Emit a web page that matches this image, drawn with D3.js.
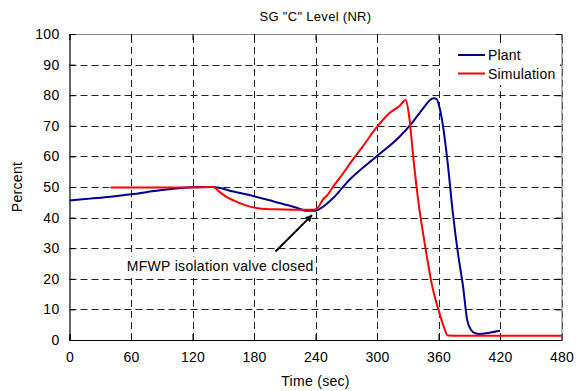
<!DOCTYPE html>
<html>
<head>
<meta charset="utf-8">
<script src="https://cdn.jsdelivr.net/npm/d3@7"></script>
<style>
  html, body { margin: 0; padding: 0; background: #fff; }
  svg { display: block; font-family: "Liberation Sans", Arial, sans-serif; }
</style>
</head>
<body>
<svg id="chart" width="582" height="391"></svg>
<script>
const title = 'SG "C" Level (NR)';
const xLabel = "Time (sec)";
const yLabel = "Percent";
const xTicks = [0, 60, 120, 180, 240, 300, 360, 420, 480];
const yTicks = [0, 10, 20, 30, 40, 50, 60, 70, 80, 90, 100];
const seriesNames = ["Plant", "Simulation"];

const plantT = [0, 20, 40, 60, 90, 120, 140, 160, 180, 200, 220, 232, 240, 245, 257, 273, 300, 322, 335, 345, 351, 355, 358, 361, 364, 369, 374, 379, 384, 388, 392, 396, 400, 410, 420];
const plantV = [45.6, 46.2, 46.8, 47.6, 49.0, 49.9, 50.0, 48.5, 47.0, 45.2, 43.4, 42.2, 42.2, 43.0, 46.3, 52.3, 60.1, 66.4, 71.3, 75.7, 78.2, 79.0, 78.8, 76.0, 70.8, 57.7, 41.5, 28.3, 17.4, 6.5, 3.2, 2.2, 2.0, 2.4, 3.0];

const simT = [40, 80, 120, 140, 146, 152, 160, 172, 185, 200, 220, 239, 243, 247, 252, 257, 267, 276, 286, 299, 312, 322, 328, 331, 336, 341, 346, 354, 361, 365, 369, 380, 420, 480];
const simV = [49.8, 49.8, 49.8, 50.0, 48.5, 47.0, 45.6, 44.0, 43.0, 42.7, 42.6, 42.6, 43.5, 45.8, 47.5, 50.0, 54.5, 58.8, 63.2, 69.2, 74.1, 76.5, 78.4, 74.0, 57.7, 43.6, 32.7, 17.4, 8.7, 4.5, 1.5, 1.4, 1.4, 1.4];

const annotation = { text: "MFWP isolation valve closed", from: [201, 28.9], to: [236.5, 40.8], textAt: [147, 22.7] };

const colors = ["#00008f", "#ff0000"];

const svg = d3.select("#chart");
const L = 69.5, R = 561.5, T = 34, B = 340;
const x = d3.scaleLinear().domain([0, 480]).range([L, R]);
const y = d3.scaleLinear().domain([0, 100]).range([B, T]);

// gridlines (dashed)
const grid = svg.append("g").attr("stroke", "#222").attr("stroke-width", 1).attr("stroke-dasharray", "7,4");
grid.selectAll("line.gx").data(xTicks.filter(d => d > 0)).join("line")
  .attr("x1", d => Math.round(x(d)) + 0.5).attr("x2", d => Math.round(x(d)) + 0.5)
  .attr("y1", y(0)).attr("y2", y(100));
grid.selectAll("line.gy").data(yTicks.filter(d => d > 0)).join("line")
  .attr("y1", d => Math.round(y(d)) + 0.5).attr("y2", d => Math.round(y(d)) + 0.5)
  .attr("x1", x(0)).attr("x2", x(480));

// axes
const xAxisB = d3.axisBottom(x).tickValues(xTicks).tickSize(-6).tickPadding(12);
const xAxisT = d3.axisTop(x).tickValues(xTicks).tickSize(-6).tickFormat("");
const yAxisL = d3.axisLeft(y).tickValues(yTicks).tickSize(-6).tickPadding(10);
const yAxisR = d3.axisRight(y).tickValues(yTicks).tickSize(-6).tickFormat("");

function styleAxis(g, solid) {
  g.select(".domain").attr("stroke", solid ? "#000" : "#888").attr("stroke-width", 1.2);
  g.selectAll(".tick line").attr("stroke", "#000").attr("stroke-width", 1);
  g.selectAll(".tick text").attr("fill", "#000").attr("font-size", 14).attr("letter-spacing", 0.3)
    .attr("font-family", "'Liberation Sans', Arial, sans-serif");
}
svg.append("g").attr("transform", `translate(0,${B})`).call(xAxisB).call(g => styleAxis(g, true));
svg.append("g").attr("transform", `translate(0,${T})`).call(xAxisT).call(g => styleAxis(g, false));
svg.append("g").attr("transform", `translate(${L},0)`).call(yAxisL).call(g => styleAxis(g, true));
svg.append("g").attr("transform", `translate(${R},0)`).call(yAxisR).call(g => styleAxis(g, false));

// annotation text with white background
const annG = svg.append("g");
const annText = annG.append("text").attr("x", x(annotation.textAt[0])).attr("y", y(annotation.textAt[1]))
  .attr("text-anchor", "middle").attr("font-size", 14).attr("letter-spacing", 0.3).text(annotation.text);
const bb = annText.node().getBBox();
annG.insert("rect", "text").attr("x", bb.x - 2).attr("y", bb.y - 1)
  .attr("width", bb.width + 4).attr("height", bb.height + 2).attr("fill", "#fff");

// lines
const line = d3.line().x(d => x(d[0])).y(d => y(d[1])).curve(d3.curveMonotoneX);
const plantData = plantT.map((t, i) => [t, plantV[i]]);
const simData = simT.map((t, i) => [t, simV[i]]);
svg.append("path").datum(plantData).attr("d", line).attr("fill", "none")
  .attr("stroke", colors[0]).attr("stroke-width", 2).attr("stroke-linejoin", "round");
svg.append("path").datum(simData).attr("d", line).attr("fill", "none")
  .attr("stroke", colors[1]).attr("stroke-width", 2).attr("stroke-linejoin", "round");

// legend
const lg = svg.append("g");
lg.append("rect").attr("x", 441).attr("y", 43).attr("width", 119).attr("height", 42).attr("fill", "#fff");
seriesNames.forEach((n, i) => {
  const yy = 55 + i * 18.5;
  lg.append("line").attr("x1", 458).attr("x2", 485).attr("y1", yy).attr("y2", yy)
    .attr("stroke", colors[i]).attr("stroke-width", 2);
  lg.append("text").attr("x", 488).attr("y", yy + 5).attr("font-size", 14).attr("letter-spacing", 0.2).text(n);
});

// annotation arrow
svg.append("defs").append("marker").attr("id", "ah").attr("viewBox", "0 0 10 10")
  .attr("refX", 9).attr("refY", 5).attr("markerWidth", 7).attr("markerHeight", 7)
  .attr("markerUnits", "userSpaceOnUse").attr("orient", "auto")
  .append("path").attr("d", "M0,0 L10,5 L0,10 z").attr("fill", "#000");
svg.append("line")
  .attr("x1", x(annotation.from[0])).attr("y1", y(annotation.from[1]))
  .attr("x2", x(annotation.to[0])).attr("y2", y(annotation.to[1]))
  .attr("stroke", "#000").attr("stroke-width", 2).attr("marker-end", "url(#ah)");

// titles
svg.append("text").attr("x", (L + R) / 2).attr("y", 21).attr("text-anchor", "middle")
  .attr("font-size", 13).attr("letter-spacing", 0.3).text(title);
svg.append("text").attr("x", (L + R) / 2).attr("y", 386).attr("text-anchor", "middle")
  .attr("font-size", 14).attr("letter-spacing", 0.3).text(xLabel);
svg.append("text").attr("transform", `translate(22,${(T + B) / 2}) rotate(-90)`)
  .attr("text-anchor", "middle").attr("font-size", 14).attr("letter-spacing", 0.3).text(yLabel);
</script>
</body>
</html>
